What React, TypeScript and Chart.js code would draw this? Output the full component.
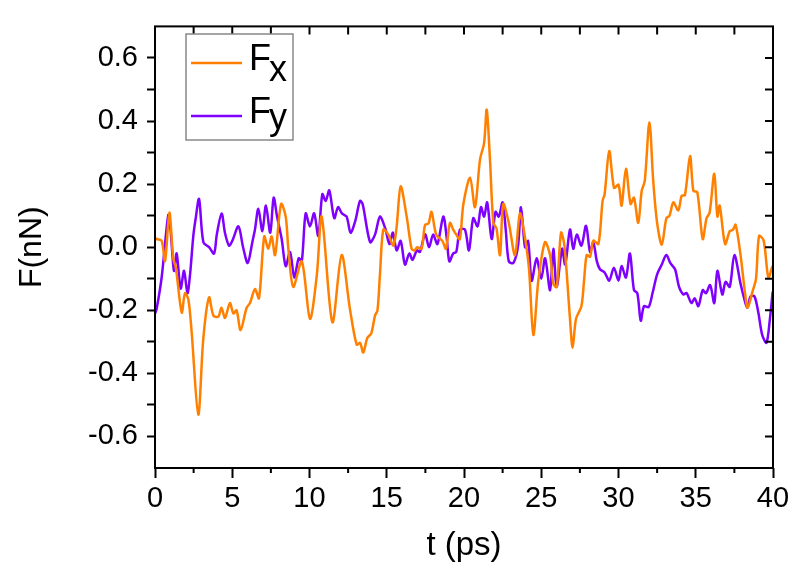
import React, { useEffect, useRef } from "react";
import { Chart, registerables } from "chart.js";

Chart.register(...registerables);

const fxTime = [0.0, 0.1, 0.43, 0.65, 0.93, 1.18, 1.35, 1.73, 1.94, 2.16, 2.37, 2.8, 3.13, 3.5, 3.78, 4.1, 4.3, 4.53, 4.85, 5.07, 5.28, 5.54, 5.93, 6.15, 6.47, 6.73, 7.07, 7.33, 7.55, 7.77, 8.16, 8.46, 8.63, 8.95, 9.5, 10.03, 10.47, 10.79, 11.48, 12.08, 12.62, 13.05, 13.27, 13.48, 13.74, 14.0, 14.24, 14.4, 14.56, 14.78, 15.1, 15.43, 15.64, 15.9, 16.29, 16.61, 16.8, 16.97, 17.25, 17.48, 17.7, 17.9, 18.2, 18.6, 18.83, 19.09, 19.3, 19.5, 19.73, 19.96, 20.39, 20.71, 21.04, 21.3, 21.47, 21.68, 21.9, 22.1, 22.33, 22.54, 22.9, 23.3, 23.62, 23.9, 24.2, 24.49, 24.81, 25.24, 25.57, 25.78, 26.0, 26.28, 26.5, 26.86, 27.03, 27.25, 27.6, 27.77, 27.94, 28.16, 28.37, 28.7, 28.97, 29.1, 29.4, 29.71, 30.0, 30.2, 30.48, 30.78, 31.0, 31.28, 31.5, 31.7, 32.0, 32.25, 32.5, 32.8, 33.1, 33.3, 33.55, 33.87, 34.09, 34.3, 34.63, 34.85, 35.1, 35.45, 35.7, 35.9, 36.2, 36.4, 36.55, 36.9, 37.2, 37.4, 37.58, 37.9, 38.19, 38.36, 38.7, 38.9, 39.1, 39.4, 39.7, 39.96];
const fxValues = [0.03, 0.026, 0.02, -0.044, 0.11, -0.035, -0.065, -0.207, -0.146, -0.166, -0.268, -0.531, -0.288, -0.159, -0.217, -0.22, -0.192, -0.224, -0.177, -0.21, -0.2, -0.263, -0.192, -0.177, -0.133, -0.162, 0.034, -0.005, 0.034, -0.025, 0.137, 0.097, -0.005, -0.126, -0.045, -0.227, -0.09, 0.097, -0.238, -0.025, -0.197, -0.309, -0.303, -0.334, -0.288, -0.273, -0.217, -0.2, -0.086, 0.056, 0.04, 0.005, 0.065, 0.193, 0.097, -0.005, -0.01, 0.0, -0.005, 0.071, 0.075, 0.112, 0.04, 0.02, -0.005, 0.077, 0.056, 0.04, 0.025, 0.137, 0.22, 0.127, 0.279, 0.33, 0.436, 0.279, 0.077, 0.06, -0.025, 0.137, 0.077, -0.025, 0.107, 0.045, -0.065, -0.278, -0.106, 0.016, -0.025, -0.116, -0.126, 0.046, 0.005, -0.227, -0.319, -0.227, -0.187, -0.106, -0.025, -0.03, 0.021, 0.01, 0.147, 0.167, 0.305, 0.188, 0.198, 0.132, 0.249, 0.137, 0.157, 0.077, 0.178, 0.21, 0.396, 0.208, 0.077, 0.008, 0.092, 0.1, 0.142, 0.117, 0.163, 0.165, 0.289, 0.178, 0.175, 0.026, 0.092, 0.11, 0.233, 0.097, 0.132, 0.01, 0.051, 0.055, 0.071, -0.025, -0.146, -0.192, -0.136, -0.1, 0.036, 0.02, -0.096, -0.06];

const fyTime = [0.0, 0.1, 0.43, 0.86, 1.0, 1.23, 1.4, 1.66, 1.88, 2.1, 2.27, 2.48, 2.63, 2.85, 3.13, 3.5, 3.82, 4.0, 4.31, 4.53, 4.79, 5.0, 5.4, 5.7, 6.0, 6.3, 6.47, 6.69, 6.95, 7.18, 7.46, 7.68, 7.9, 8.2, 8.46, 8.74, 9.02, 9.3, 9.5, 9.75, 10.03, 10.3, 10.57, 10.83, 11.05, 11.28, 11.6, 11.85, 12.1, 12.4, 12.66, 12.95, 13.27, 13.44, 13.92, 14.24, 14.56, 14.9, 15.17, 15.4, 15.64, 15.9, 16.18, 16.46, 16.67, 16.95, 17.15, 17.48, 17.74, 18.0, 18.28, 18.66, 18.88, 19.05, 19.3, 19.5, 19.74, 20.06, 20.32, 20.6, 20.88, 21.1, 21.3, 21.5, 21.79, 22.04, 22.25, 22.5, 22.7, 22.9, 23.2, 23.5, 23.69, 23.95, 24.15, 24.38, 24.7, 25.0, 25.25, 25.57, 25.78, 26.0, 26.35, 26.55, 26.86, 27.07, 27.3, 27.6, 27.9, 28.16, 28.37, 28.6, 28.8, 29.1, 29.4, 29.7, 30.0, 30.2, 30.48, 30.74, 31.0, 31.22, 31.44, 31.65, 31.95, 32.2, 32.5, 32.8, 33.1, 33.35, 33.66, 33.92, 34.2, 34.4, 34.72, 34.93, 35.17, 35.45, 35.66, 35.93, 36.2, 36.4, 36.72, 36.93, 37.2, 37.5, 37.9, 38.1, 38.33, 38.55, 38.8, 39.05, 39.3, 39.58, 39.8, 39.98];
const fyValues = [-0.21, -0.197, -0.096, 0.102, 0.06, -0.075, -0.02, -0.131, -0.075, -0.146, -0.086, 0.036, 0.09, 0.153, 0.016, 0.0, -0.02, 0.04, 0.107, 0.045, 0.005, 0.02, 0.066, 0.0, -0.05, 0.016, 0.056, 0.122, 0.051, 0.132, 0.046, 0.157, 0.097, 0.026, -0.06, -0.015, -0.096, -0.035, -0.045, 0.107, 0.066, 0.107, 0.036, 0.168, 0.147, 0.18, 0.092, 0.127, 0.107, 0.097, 0.046, 0.081, 0.147, 0.137, 0.016, 0.04, 0.097, 0.06, 0.01, 0.046, -0.01, 0.02, -0.055, -0.02, -0.04, -0.01, -0.015, 0.041, 0.0, 0.04, 0.01, 0.097, 0.03, -0.045, -0.02, -0.015, 0.056, 0.056, -0.01, 0.092, 0.066, 0.127, 0.097, 0.142, 0.026, 0.112, 0.097, 0.142, 0.056, -0.045, -0.05, 0.005, 0.127, 0.0, 0.02, -0.106, -0.035, -0.1, -0.035, -0.136, -0.005, -0.126, -0.005, -0.055, 0.056, -0.005, 0.04, 0.005, 0.068, -0.015, 0.015, -0.045, -0.07, -0.08, -0.106, -0.065, -0.106, -0.06, -0.096, -0.02, -0.136, -0.146, -0.233, -0.187, -0.19, -0.146, -0.086, -0.055, -0.025, -0.05, -0.07, -0.126, -0.15, -0.145, -0.177, -0.162, -0.187, -0.136, -0.146, -0.12, -0.177, -0.075, -0.15, -0.11, -0.126, -0.025, -0.116, -0.156, -0.192, -0.156, -0.156, -0.207, -0.278, -0.303, -0.227, -0.141];

const xMajorTicks = [0, 5, 10, 15, 20, 25, 30, 35, 40];
const xMinorTicks = [2.5, 7.5, 12.5, 17.5, 22.5, 27.5, 32.5, 37.5];
const yTicks = [-0.6, -0.5, -0.4, -0.3, -0.2, -0.1, 0, 0.1, 0.2, 0.3, 0.4, 0.5, 0.6];
const yLabelTicks = [-0.6, -0.4, -0.2, 0, 0.2, 0.4, 0.6];

const seriesNames = ["F", "F"];
const seriesSubs = ["x", "y"];
const seriesColors = ["#ff8000", "#7f00ff"];

const FONT = "'Liberation Sans', Arial, sans-serif";

const framePlugin = {
  id: "framePlugin",
  afterDraw(chart: any) {
    const { ctx, chartArea } = chart;
    const { left, right, top, bottom } = chartArea;
    const xs = chart.scales.x;
    const ys = chart.scales.y;
    ctx.save();
    ctx.strokeStyle = "#000";
    ctx.lineWidth = 2;
    ctx.strokeRect(left, top, right - left, bottom - top);
    ctx.beginPath();
    for (const t of xMinorTicks) {
      const px = xs.getPixelForValue(t);
      ctx.moveTo(px, bottom);
      ctx.lineTo(px, bottom + 5);
    }
    for (const t of [...xMajorTicks, ...xMinorTicks]) {
      const px = xs.getPixelForValue(t);
      ctx.moveTo(px, top);
      ctx.lineTo(px, top + 8);
    }
    for (const v of yTicks) {
      const py = ys.getPixelForValue(v);
      ctx.moveTo(right, py);
      ctx.lineTo(right - 8, py);
    }
    ctx.stroke();

    // legend
    const bx = 186, by = 34, bw = 107, bh = 106;
    ctx.fillStyle = "#fff";
    ctx.fillRect(bx, by, bw, bh);
    ctx.strokeStyle = "#888";
    ctx.lineWidth = 1.5;
    ctx.strokeRect(bx, by, bw, bh);
    const rows = [
      { lineY: 63, base: 70, subBase: 81 },
      { lineY: 116, base: 123, subBase: 129 },
    ];
    rows.forEach((r, i) => {
      ctx.strokeStyle = seriesColors[i];
      ctx.lineWidth = 2.5;
      ctx.beginPath();
      ctx.moveTo(191, r.lineY);
      ctx.lineTo(242, r.lineY);
      ctx.stroke();
      ctx.fillStyle = "#000";
      ctx.textAlign = "left";
      ctx.textBaseline = "alphabetic";
      ctx.font = `36px ${FONT}`;
      ctx.fillText(seriesNames[i], 249, r.base);
      const w = ctx.measureText(seriesNames[i]).width;
      ctx.font = `36px ${FONT}`;
      ctx.fillText(seriesSubs[i], 249 + w - 2, r.subBase);
    });
    ctx.restore();
  },
};

export default function App() {
  const ref = useRef<HTMLCanvasElement | null>(null);
  useEffect(() => {
    if (!ref.current) return;
    const chart = new Chart(ref.current, {
      type: "line",
      data: {
        datasets: [
          {
            label: "Fx",
            data: fxTime.map((t, i) => ({ x: t, y: fxValues[i] })),
            borderColor: seriesColors[0],
            borderWidth: 2.5,
            pointRadius: 0,
            tension: 0.3,
            fill: false,
          },
          {
            label: "Fy",
            data: fyTime.map((t, i) => ({ x: t, y: fyValues[i] })),
            borderColor: seriesColors[1],
            borderWidth: 2.5,
            pointRadius: 0,
            tension: 0.3,
            fill: false,
          },
        ],
      },
      options: {
        responsive: false,
        animation: false,
        layout: { padding: { left: 0, top: 10, right: 22, bottom: 0 } },
        plugins: { legend: { display: false }, tooltip: { enabled: false } },
        scales: {
          x: {
            type: "linear",
            min: 0,
            max: 40,
            afterBuildTicks: (s: any) => {
              s.ticks = xMajorTicks.map((v) => ({ value: v }));
            },
            afterFit: (s: any) => {
              s.height = 110;
            },
            ticks: {
              autoSkip: false,
              maxRotation: 0,
              padding: 4,
              color: "#000",
              font: { family: FONT, size: 29 },
              callback: (v: any) => String(v),
            },
            grid: {
              display: true,
              drawOnChartArea: false,
              drawTicks: true,
              tickLength: 10,
              tickColor: "#000",
              tickWidth: 2,
            },
            border: { display: false },
            title: {
              display: true,
              text: "t (ps)",
              color: "#000",
              font: { family: FONT, size: 33 },
              padding: { top: 0, bottom: 12 },
            },
          },
          y: {
            type: "linear",
            min: -0.7,
            max: 0.7,
            afterBuildTicks: (s: any) => {
              s.ticks = yTicks.map((v) => ({ value: v }));
            },
            afterFit: (s: any) => {
              s.width = 155;
            },
            ticks: {
              autoSkip: false,
              padding: 9,
              color: "#000",
              font: { family: FONT, size: 29 },
              callback: (v: any) => {
                const n = Number(v);
                const hit = yLabelTicks.some((t) => Math.abs(t - n) < 1e-6);
                return hit ? (Math.abs(n) < 1e-9 ? "0.0" : n.toFixed(1)) : "";
              },
            },
            grid: {
              display: true,
              drawOnChartArea: false,
              drawTicks: true,
              tickLength: 8,
              tickColor: "#000",
              tickWidth: 2,
            },
            border: { display: false },
            title: {
              display: true,
              text: "F(nN)",
              color: "#000",
              font: { family: FONT, size: 32 },
              padding: { top: 13, bottom: 0 },
            },
          },
        },
      },
      plugins: [framePlugin],
    });
    return () => chart.destroy();
  }, []);
  return (
    <div style={{ position: "fixed", left: 0, top: 0, width: 795, height: 578, background: "#fff" }}>
      <canvas ref={ref} width={795} height={578} style={{ display: "block" }} />
    </div>
  );
}
